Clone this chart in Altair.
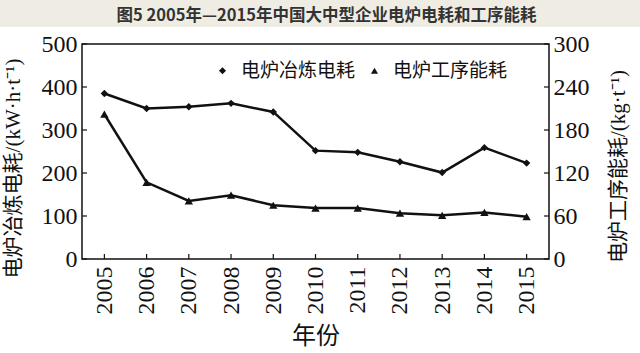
import altair as alt
import pandas as pd

# ---- data ----
years = ["2005", "2006", "2007", "2008", "2009", "2010", "2011", "2012", "2013", "2014", "2015"]
elec_use = [385, 350, 354, 362, 342, 252, 248, 226, 201, 259, 223]      # 电炉冶炼电耗 kW·h/t (left axis)
proc_use = [202, 107, 81, 89, 75, 71, 71, 64, 61, 65, 59]               # 电炉工序能耗 kg/t (right axis)
series_names = ["电炉冶炼电耗", "电炉工序能耗"]
left_ticks = [0, 100, 200, 300, 400, 500]
right_ticks = [0, 60, 120, 180, 240, 300]
title_text = "图5 2005年—2015年中国大中型企业电炉电耗和工序能耗"
left_title = "电炉冶炼电耗/(kW·h·t⁻¹)"
right_title = "电炉工序能耗/(kg·t⁻¹)"
x_title = "年份"

W, H = 467, 215
INK = "#111111"
CJK = "Noto Sans CJK SC"
SERIF = "Liberation Serif, Times New Roman, serif"
MIXED = "Liberation Serif, Noto Sans CJK SC, serif"

df_e = pd.DataFrame({"year": years, "v": elec_use, "series": series_names[0]})
df_p = pd.DataFrame({"year": years, "v": proc_use, "series": series_names[1]})
df_lt = pd.DataFrame({"v": left_ticks})
df_rt = pd.DataFrame({"v": right_ticks})
one = pd.DataFrame({"a": [0]})

x_axis = alt.Axis(
    title=x_title, labelAngle=270, labelFont=SERIF, labelFontSize=24, labelColor=INK,
    labelPadding=7, ticks=False, domain=False, grid=False,
    titleFont=CJK, titleFontSize=24, titleFontWeight="normal", titleColor=INK, titlePadding=10,
)
x_scale = alt.Scale(type="point", padding=0.53)


def X():
    return alt.X("year:O", scale=x_scale, axis=x_axis, sort=years)


ax_left = alt.Axis(
    orient="left", title=left_title, values=left_ticks, ticks=False, domain=False, grid=False,
    labelFont=SERIF, labelFontSize=24, labelColor=INK, labelPadding=5,
    titleFont=MIXED, titleFontSize=21, titleFontWeight="normal", titleColor=INK,
    titleAngle=270, titleX=-69, titleY=124, titleAlign="center", titleBaseline="middle",
)
ax_right = alt.Axis(
    orient="right", title=right_title, values=right_ticks, ticks=False, domain=False, grid=False,
    labelFont=SERIF, labelFontSize=24, labelColor=INK, labelPadding=4,
    titleFont=MIXED, titleFontSize=21, titleFontWeight="normal", titleColor=INK,
    titleAngle=270, titleX=69, titleY=122, titleAlign="center", titleBaseline="middle",
)
sc_left = alt.Scale(domain=[0, 500], nice=False, zero=True)
sc_right = alt.Scale(domain=[0, 300], nice=False, zero=True)

legend = alt.Legend(
    title=None, orient="none", legendX=131, legendY=17, direction="horizontal",
    symbolFillColor=INK, symbolStrokeColor=INK, symbolSize=50, symbolStrokeWidth=0,
    labelFont=CJK, labelFontSize=19, labelColor=INK, labelOffset=9, columnPadding=9, padding=0,
)
shape = alt.Shape(
    "series:N",
    scale=alt.Scale(domain=series_names, range=["diamond", "triangle-up"]),
    legend=legend,
)

# left series
line_e = alt.Chart(df_e).mark_line(color=INK, strokeWidth=2.5).encode(
    x=X(), y=alt.Y("v:Q", scale=sc_left, axis=ax_left))
pts_e = alt.Chart(df_e).mark_point(filled=True, color=INK, size=55, opacity=1).encode(
    x=X(), y=alt.Y("v:Q", scale=sc_left, axis=ax_left), shape=shape)
ticks_l = alt.Chart(df_lt).mark_rule(color=INK, strokeWidth=1.2).encode(
    y=alt.Y("v:Q", scale=sc_left, axis=ax_left), x=alt.value(0), x2=alt.value(5))
ticks_x = alt.Chart(df_e).mark_rule(color=INK, strokeWidth=1.2).encode(
    x=X(), y=alt.value(H), y2=alt.value(H - 5))
left = alt.layer(line_e, pts_e, ticks_l, ticks_x)

# right series
line_p = alt.Chart(df_p).mark_line(color=INK, strokeWidth=2.5).encode(
    x=X(), y=alt.Y("v:Q", scale=sc_right, axis=ax_right))
pts_p = alt.Chart(df_p).mark_point(filled=True, color=INK, size=70, opacity=1).encode(
    x=X(), y=alt.Y("v:Q", scale=sc_right, axis=ax_right), shape=shape)
ticks_r = alt.Chart(df_rt).mark_rule(color=INK, strokeWidth=1.2).encode(
    y=alt.Y("v:Q", scale=sc_right, axis=ax_right), x=alt.value(W), x2=alt.value(W - 5))
right = alt.layer(line_p, pts_p, ticks_r)

# title band
band = alt.Chart(one).mark_rect(color="#efede3").encode(
    x=alt.value(-82), x2=alt.value(558), y=alt.value(-44), y2=alt.value(-17))
title_mark = alt.Chart(one).mark_text(
    text=title_text, font=CJK, fontSize=16.5, fontWeight="bold", color="#333333",
    align="center", baseline="middle",
).encode(x=alt.value(W / 2 + 11), y=alt.value(-28))

chart = (
    alt.layer(band, title_mark, left, right)
    .resolve_scale(y="independent")
    .properties(
        width=W, height=H,
        autosize=alt.AutoSizeParams(type="none"),
        padding={"left": 82, "top": 44, "right": 91, "bottom": 94},
        background="white",
    )
    .configure_view(stroke=INK, strokeWidth=1.5)
)

chart.save("out.html", embed_options={"renderer": "svg", "actions": False})
